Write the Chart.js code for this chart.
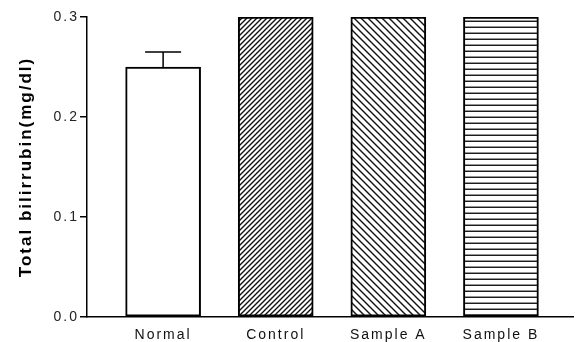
<!DOCTYPE html>
<html lang="en">
<head>
<meta charset="UTF-8">
<title>Total bilirrubin</title>
<script src="https://cdn.jsdelivr.net/npm/chart.js"></script>
<style>
  html, body { margin: 0; padding: 0; background: #fff; }
  #wrap { width: 577px; height: 342px; }
</style>
</head>
<body>
<div id="wrap"><canvas id="chart" width="577" height="342"></canvas></div>
<script>
  // data
  const groups = ["Normal", "Control", "Sample A", "Sample B"];
  const bilirubin = [0.25, 0.30, 0.30, 0.30];
  const errors = [0.015, 0, 0, 0];
  const yTicks = [0, 0.1, 0.2, 0.3];

  function makePattern(kind, size) {
    let c = document.createElement("canvas");
    c.width = size; c.height = size;
    let g = c.getContext("2d");
    g.fillStyle = "#fff";
    g.fillRect(0, 0, size, size);
    g.strokeStyle = "#111";
    g.lineWidth = 1.4;
    g.beginPath();
    if (kind === "fwd") {
      g.moveTo(0, size); g.lineTo(size, 0);
      g.moveTo(-2, 2); g.lineTo(2, -2);
      g.moveTo(size - 2, size + 2); g.lineTo(size + 2, size - 2);
    } else if (kind === "back") {
      g.moveTo(0, 0); g.lineTo(size, size);
      g.moveTo(-2, size - 2); g.lineTo(2, size + 2);
      g.moveTo(size - 2, -2); g.lineTo(size + 2, 2);
    } else if (kind === "horiz") {
      g.moveTo(0, size / 2); g.lineTo(size, size / 2);
    }
    g.stroke();
    return document.getElementById("chart").getContext("2d").createPattern(c, "repeat");
  }

  const fills = ["#fff", makePattern("fwd", 5), makePattern("back", 7), makePattern("horiz", 6.5)];

  // scanned figure text is widely spaced
  const spacing = {
    id: "spacing",
    beforeUpdate(chart) { chart.ctx.letterSpacing = "2px"; },
    beforeDraw(chart) { chart.ctx.letterSpacing = "2px"; }
  };

  const errorBars = {
    id: "errorBars",
    afterDatasetsDraw(chart) {
      const ctx = chart.ctx;
      const xs = chart.scales.x, ys = chart.scales.y;
      ctx.save();
      ctx.strokeStyle = "#000";
      ctx.lineWidth = 1.5;
      errors.forEach((e, i) => {
        if (!e) return;
        const x = xs.getPixelForValue(i + 1);
        const y0 = ys.getPixelForValue(bilirubin[i]);
        const y1 = ys.getPixelForValue(bilirubin[i] + e);
        ctx.beginPath();
        ctx.moveTo(x, y0); ctx.lineTo(x, y1);
        ctx.moveTo(x - 18, y1); ctx.lineTo(x + 18, y1);
        ctx.stroke();
      });
      ctx.restore();
    }
  };

  new Chart(document.getElementById("chart"), {
    type: "bar",
    data: {
      datasets: [{
        data: bilirubin.map((v, i) => ({ x: i + 1, y: v })),
        backgroundColor: fills,
        borderColor: "#000",
        borderWidth: 2,
        borderSkipped: false,
        barThickness: 75
      }]
    },
    options: {
      responsive: false,
      animation: false,
      layout: { padding: { top: 17, right: 4, left: 0, bottom: 0 } },
      plugins: { legend: { display: false }, tooltip: { enabled: false } },
      scales: {
        x: {
          type: "linear",
          offset: false,
          min: 0.324,
          max: 4.64,
          afterBuildTicks: s => { s.ticks = groups.map((g, i) => ({ value: i + 1 })); },
          afterFit: s => { s.height = 25; },
          grid: { display: false },
          border: { display: true, color: "#000", width: 1.5 },
          ticks: {
            callback: (v) => groups[v - 1],
            color: "#111",
            font: { family: "Liberation Sans", size: 14 },
            padding: 2,
            maxRotation: 0
          }
        },
        y: {
          min: 0,
          max: 0.3,
          afterBuildTicks: s => { s.ticks = yTicks.map(v => ({ value: v })); },
          afterFit: s => { s.width = 87; },
          grid: { drawOnChartArea: false, tickLength: 7, color: "#000", lineWidth: 1.5 },
          border: { display: true, color: "#000", width: 1.5 },
          ticks: {
            callback: v => v.toFixed(1),
            color: "#222",
            font: { family: "Liberation Sans", size: 14 },
            padding: 1
          },
          title: {
            display: true,
            text: "Total bilirrubin(mg/dl)",
            color: "#000",
            font: { family: "Liberation Sans", size: 17, weight: "bold" },
            padding: { top: 16, bottom: 0 }
          }
        }
      }
    },
    plugins: [spacing, errorBars]
  });
</script>
</body>
</html>
